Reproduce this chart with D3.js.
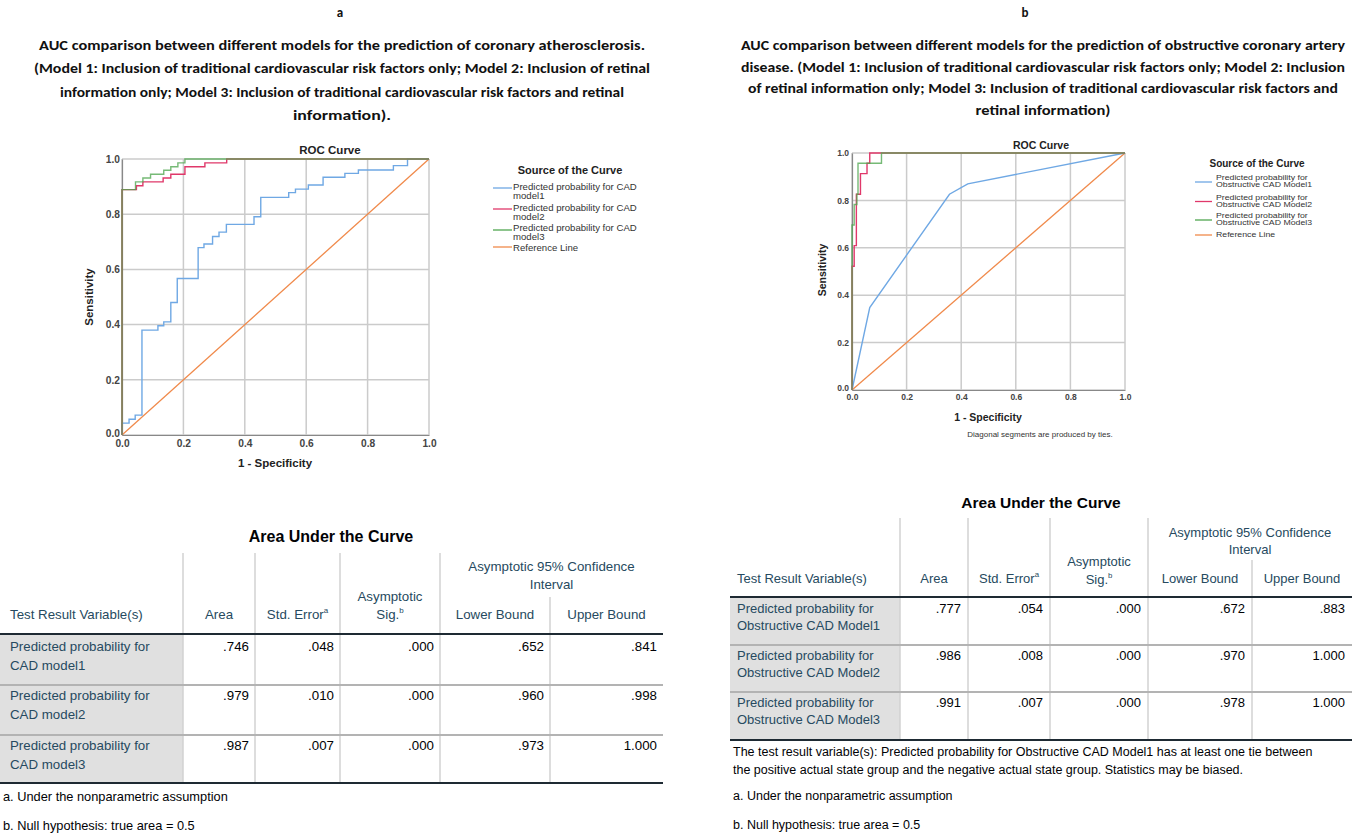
<!DOCTYPE html>
<html>
<head>
<meta charset="utf-8">
<script src="https://cdn.jsdelivr.net/npm/d3@7"></script>
<style>
  body { margin: 0; background: #fff; }
  svg { display: block; }
</style>
</head>
<body>
<div id="chart"></div>
<script>
// ---------- data ----------
const ticks = [0, 0.2, 0.4, 0.6, 0.8, 1.0]

// panel titles
const panelLetters = ["a", "b"]
const titleA = [
  "AUC comparison between different models for the prediction of coronary atherosclerosis.",
  "(Model 1: Inclusion of traditional cardiovascular risk factors only; Model 2: Inclusion of retinal",
  "information only; Model 3: Inclusion of traditional cardiovascular risk factors and retinal",
  "information)."
]
const titleB = [
  "AUC comparison between different models for the prediction of obstructive coronary artery",
  "disease. (Model 1: Inclusion of traditional cardiovascular risk factors only; Model 2: Inclusion",
  "of retinal information only; Model 3: Inclusion of traditional cardiovascular risk factors and",
  "retinal information)"
]

// ROC points (1 - specificity, sensitivity)
const rocA1 = [[0,0],[0,0.043],[0.023,0.057],[0.043,0.072],[0.065,0.38],[0.117,0.396],[0.136,0.41],
  [0.159,0.48],[0.18,0.567],[0.248,0.679],[0.267,0.692],[0.295,0.719],[0.316,0.735],[0.34,0.763],
  [0.43,0.791],[0.452,0.861],[0.543,0.878],[0.565,0.891],[0.607,0.906],[0.655,0.934],[0.726,0.948],
  [0.77,0.96],[0.884,0.976],[0.93,1.0],[1,1]]
const rocA2 = [[0,0],[0,0.889],[0.047,0.903],[0.068,0.917],[0.134,0.931],[0.159,0.945],[0.205,0.972],
  [0.27,0.986],[0.341,1.0],[1,1]]
const rocA3 = [[0,0],[0,0.889],[0.044,0.917],[0.068,0.931],[0.093,0.945],[0.136,0.959],[0.159,0.972],
  [0.182,0.986],[0.205,1.0],[1,1]]

const rocB1 = [[0,0],[0.065,0.348],[0.357,0.826],[0.424,0.87],[1,1]]
const rocB2 = [[0,0],[0,0.522],[0.008,0.609],[0.016,0.826],[0.031,0.913],[0.055,0.957],[0.065,1.0],[1,1]]
const rocB3 = [[0,0],[0,0.696],[0.008,0.783],[0.018,0.826],[0.022,0.957],[0.108,1.0],[1,1]]

const legendA = [["Predicted probability for CAD", "model1"], ["Predicted probability for CAD", "model2"],
  ["Predicted probability for CAD", "model3"], ["Reference Line"]]
const legendB = [["Predicted probability for", "Obstructive CAD Model1"], ["Predicted probability for", "Obstructive CAD Model2"],
  ["Predicted probability for", "Obstructive CAD Model3"], ["Reference Line"]]

// AUC tables
const tableAVars = [["Predicted probability for", "CAD model1"], ["Predicted probability for", "CAD model2"],
  ["Predicted probability for", "CAD model3"]]
const tableAArea = [".746", ".979", ".987"]
const tableASE = [".048", ".010", ".007"]
const tableASig = [".000", ".000", ".000"]
const tableALower = [".652", ".960", ".973"]
const tableAUpper = [".841", ".998", "1.000"]

const tableBVars = [["Predicted probability for", "Obstructive CAD Model1"], ["Predicted probability for", "Obstructive CAD Model2"],
  ["Predicted probability for", "Obstructive CAD Model3"]]
const tableBArea = [".777", ".986", ".991"]
const tableBSE = [".054", ".008", ".007"]
const tableBSig = [".000", ".000", ".000"]
const tableBLower = [".672", ".970", ".978"]
const tableBUpper = [".883", "1.000", "1.000"]

const notesA = ["a. Under the nonparametric assumption", "b. Null hypothesis: true area = 0.5"]
const notesB = ["The test result variable(s): Predicted probability for Obstructive CAD Model1 has at least one tie between",
  "the positive actual state group and the negative actual state group. Statistics may be biased.",
  "a. Under the nonparametric assumption", "b. Null hypothesis: true area = 0.5"]

// ---------- styles ----------
const colors = { m1: "#6fa8e4", m2: "#e0386a", m3: "#4fa64f", ref: "#f08a4b" }
const sans = "'Liberation Sans', Arial, sans-serif"
const calibri = "Carlito, 'Noto Sans', sans-serif"
const labelBlue = "#264a60"
const ink = "#010205"

const svg = d3.select("#chart").append("svg")
  .attr("width", 1360).attr("height", 835)
  .style("font-family", sans)

// ---------- panel titles ----------
function drawTitle(letter, lx, lines, cx, ys, widths) {
  const g = svg.append("g").style("font-family", calibri).attr("font-weight", "bold").attr("fill", "#111")
  g.append("text").attr("x", lx).attr("y", 12).attr("text-anchor", "middle")
    .attr("dominant-baseline", "central").attr("font-size", 13).text(letter)
  g.selectAll("text.line").data(lines).enter().append("text").attr("class", "line")
    .attr("x", cx).attr("y", (d, i) => ys[i]).attr("text-anchor", "middle")
    .attr("dominant-baseline", "central").attr("font-size", 14.5)
    .attr("textLength", (d, i) => widths[i]).attr("lengthAdjust", "spacingAndGlyphs")
    .text(d => d)
}
drawTitle(panelLetters[0], 340, titleA, 342, [45, 68, 92, 115], [606, 616, 564, 98])
drawTitle(panelLetters[1], 1025, titleB, 1043, [45, 67, 88, 110], [604, 604, 590, 135])

// ---------- ROC plots ----------
function drawRoc(cfg, curves, legend) {
  const x = d3.scaleLinear().domain([0, 1]).range([cfg.x0, cfg.x1])
  const y = d3.scaleLinear().domain([0, 1]).range([cfg.y0, cfg.y1])
  const g = svg.append("g")

  // grid
  g.selectAll("line.gx").data(ticks).enter().append("line").attr("class", "gx")
    .attr("x1", d => x(d)).attr("x2", d => x(d)).attr("y1", y(0)).attr("y2", y(1))
    .attr("stroke", "#cbcbcb").attr("stroke-width", 1.5)
  g.selectAll("line.gy").data(ticks).enter().append("line").attr("class", "gy")
    .attr("y1", d => y(d)).attr("y2", d => y(d)).attr("x1", x(0)).attr("x2", x(1))
    .attr("stroke", "#cbcbcb").attr("stroke-width", 1.5)

  // axes
  const fmt = d3.format(".1f")
  const xAxis = g.append("g").attr("transform", `translate(0,${y(0)})`)
    .call(d3.axisBottom(x).tickValues(ticks).tickSize(0).tickPadding(cfg.padX).tickFormat(fmt))
  const yAxis = g.append("g").attr("transform", `translate(${x(0)},0)`)
    .call(d3.axisLeft(y).tickValues(ticks).tickSize(0).tickPadding(cfg.padY).tickFormat(fmt))
  ;[xAxis, yAxis].forEach(a => {
    a.attr("font-size", null).attr("font-family", null)
    a.select(".domain").attr("stroke", "#888").attr("stroke-width", 1.2)
    a.selectAll("text")
      .style("font-size", cfg.tickFont + "px").style("font-weight", "bold")
      .style("font-family", sans).attr("fill", "#444")
  })
  // keep the corner "0.0" of the y axis just above the x axis one
  yAxis.selectAll(".tick text").filter(d => d === 0).attr("dy", "0.1em")

  // reference line
  g.append("line").attr("x1", x(0)).attr("y1", y(0)).attr("x2", x(1)).attr("y2", y(1))
    .attr("stroke", colors.ref).attr("stroke-width", 1.3)

  // curves
  curves.forEach(c => {
    const line = d3.line().x(d => x(d[0])).y(d => y(d[1])).curve(c.step ? d3.curveStepAfter : d3.curveLinear)
    g.append("path").datum(c.data).attr("d", line).attr("fill", "none")
      .attr("stroke", c.color).attr("stroke-width", 1.4).attr("stroke-opacity", c.opacity || 1)
  })

  // titles
  g.append("text").attr("x", cfg.titleX).attr("y", cfg.titleY).attr("text-anchor", "middle")
    .attr("dominant-baseline", "central").attr("font-weight", "bold").attr("font-size", cfg.titleFont)
    .attr("fill", "#222").text("ROC Curve")
  g.append("text").attr("x", cfg.xLabelX).attr("y", cfg.xLabelY).attr("text-anchor", "middle")
    .attr("dominant-baseline", "central").attr("font-weight", "bold").attr("font-size", cfg.titleFont)
    .attr("fill", "#222").text("1 - Specificity")
  g.append("text").attr("transform", `translate(${cfg.yLabelX},${cfg.yLabelY}) rotate(-90)`)
    .attr("text-anchor", "middle").attr("dominant-baseline", "central").attr("font-weight", "bold")
    .attr("font-size", cfg.yLabelFont).attr("fill", "#222").text("Sensitivity")

  // legend
  const lg = g.append("g")
  lg.append("text").attr("x", cfg.legTitleX).attr("y", cfg.legTitleY).attr("text-anchor", "middle")
    .attr("dominant-baseline", "central").attr("font-weight", "bold").attr("font-size", cfg.legTitleFont)
    .attr("fill", "#222").text("Source of the Curve")
  const legColors = [colors.m1, colors.m2, colors.m3, colors.ref]
  legend.forEach((lines, i) => {
    lg.append("line").attr("x1", cfg.legLineX0).attr("x2", cfg.legLineX1)
      .attr("y1", cfg.legLineY[i]).attr("y2", cfg.legLineY[i])
      .attr("stroke", legColors[i]).attr("stroke-width", 1.3)
    lines.forEach((t, j) => {
      const tx = lg.append("text").attr("x", cfg.legTextX).attr("y", cfg.legTextY[i] + j * cfg.legLineGap)
        .attr("dominant-baseline", "central").attr("font-size", cfg.legFont).attr("fill", "#333")
        .text(t)
      if (cfg.legStretch) tx.attr("transform", `translate(${cfg.legTextX},0) scale(${cfg.legStretch},1) translate(${-cfg.legTextX},0)`)
    })
  })
  return g
}

drawRoc({
  x0: 122, x1: 429, y0: 435, y1: 159, padX: 5, padY: 2, tickFont: 10.2,
  titleX: 330, titleY: 150, titleFont: 11.5, xLabelX: 275, xLabelY: 463,
  yLabelX: 89, yLabelY: 297, yLabelFont: 11.5,
  legTitleX: 570, legTitleY: 170, legTitleFont: 11,
  legLineX0: 493, legLineX1: 512, legLineY: [188, 209, 230, 247],
  legTextX: 513, legTextY: [186.5, 207.3, 227.3, 247.3], legLineGap: 9.2, legFont: 9.6
}, [
  { data: rocA1, color: colors.m1, step: true },
  { data: rocA2, color: colors.m2, step: true },
  { data: rocA3, color: colors.m3, step: true, opacity: 0.78 }
], legendA)

const gB = drawRoc({
  x0: 852, x1: 1125, y0: 390, y1: 153, padX: 4, padY: 3, tickFont: 8.5,
  titleX: 1041, titleY: 145, titleFont: 10.5, xLabelX: 988, xLabelY: 417,
  yLabelX: 822, yLabelY: 270, yLabelFont: 10.5,
  legTitleX: 1257, legTitleY: 163, legTitleFont: 10,
  legLineX0: 1195, legLineX1: 1212, legLineY: [182, 201.5, 220, 235],
  legTextX: 1216, legTextY: [177.8, 197.3, 215.8, 235], legLineGap: 7.2, legFont: 7, legStretch: 1.25
}, [
  { data: rocB1, color: colors.m1, step: false },
  { data: rocB2, color: colors.m2, step: true },
  { data: rocB3, color: colors.m3, step: true, opacity: 0.78 }
], legendB)

gB.append("text").attr("x", 1040).attr("y", 434).attr("text-anchor", "middle")
  .attr("dominant-baseline", "central").attr("font-size", 8).attr("fill", "#333")
  .text("Diagonal segments are produced by ties.")

// ---------- AUC tables ----------
function drawTable(cfg, vars, cols, notes) {
  const g = svg.append("g").style("font-family", sans)
  const e = cfg.edges
  const fs = cfg.font

  g.append("text").attr("x", cfg.titleX).attr("y", cfg.titleY).attr("text-anchor", "middle")
    .attr("dominant-baseline", "central").attr("font-weight", "bold").attr("font-size", cfg.titleFont)
    .attr("fill", ink).text("Area Under the Curve")

  g.append("rect").attr("x", e[0]).attr("y", cfg.headLine).attr("width", e[1] - e[0])
    .attr("height", cfg.bottom - cfg.headLine).attr("fill", "#e0e0e0")

  // vertical rules
  d3.range(1, 6).forEach(i => {
    g.append("line").attr("x1", e[i]).attr("x2", e[i])
      .attr("y1", i === 5 ? cfg.ciSplit : cfg.top).attr("y2", cfg.bottom)
      .attr("stroke", "#d2d2d2").attr("stroke-width", 1.5)
  })
  // row rules
  cfg.rowLines.forEach(yy => {
    g.append("line").attr("x1", e[0]).attr("x2", e[6]).attr("y1", yy).attr("y2", yy)
      .attr("stroke", "#b3b3b3").attr("stroke-width", 2)
  })
  ;[cfg.headLine, cfg.bottom].forEach(yy => {
    g.append("line").attr("x1", e[0]).attr("x2", e[6]).attr("y1", yy).attr("y2", yy)
      .attr("stroke", "#1e2a33").attr("stroke-width", 2)
  })

  // header
  const head = (x, y, t, sup, anchor) => {
    const tx = g.append("text").attr("x", x).attr("y", y).attr("text-anchor", anchor || "middle")
      .attr("dominant-baseline", "central").attr("font-size", fs).attr("fill", labelBlue).text(t)
    if (sup) tx.append("tspan").attr("font-size", fs * 0.6).attr("dy", -4).text(sup)
  }
  const mid = i => (e[i] + e[i + 1]) / 2
  head(e[0] + cfg.padL, cfg.headY, "Test Result Variable(s)", null, "start")
  head(mid(1), cfg.headY, "Area")
  head(mid(2), cfg.headY, "Std. Error", "a")
  head(mid(3), cfg.sigY[0], "Asymptotic")
  head(mid(3), cfg.sigY[1], "Sig.", "b")
  head((e[4] + e[6]) / 2, cfg.ciY[0], "Asymptotic 95% Confidence")
  head((e[4] + e[6]) / 2, cfg.ciY[1], "Interval")
  head(mid(4), cfg.headY, "Lower Bound")
  head(mid(5), cfg.headY, "Upper Bound")

  // body
  vars.forEach((lines, r) => {
    lines.forEach((t, j) => {
      g.append("text").attr("x", e[0] + cfg.padL).attr("y", cfg.rowY[r] + j * cfg.lineGap)
        .attr("dominant-baseline", "central").attr("font-size", fs).attr("fill", labelBlue).text(t)
    })
    cols.forEach((col, c) => {
      g.append("text").attr("x", e[c + 2] - cfg.padR).attr("y", cfg.rowY[r]).attr("text-anchor", "end")
        .attr("dominant-baseline", "central").attr("font-size", fs).attr("fill", ink).text(col[r])
    })
  })

  notes.forEach((t, i) => {
    g.append("text").attr("x", cfg.noteX).attr("y", cfg.noteY[i]).attr("dominant-baseline", "central")
      .attr("font-size", cfg.noteFont).attr("fill", ink).text(t)
  })
}

drawTable({
  edges: [0, 183, 255, 340, 440, 550, 663], top: 553, ciSplit: 597, headLine: 634,
  rowLines: [685, 735], bottom: 783, font: 13.3, titleFont: 16, titleX: 331, titleY: 536,
  headY: 614, sigY: [596, 614], ciY: [566, 584], padL: 10, padR: 6,
  rowY: [646, 695, 745], lineGap: 19, noteX: 3, noteY: [796, 825], noteFont: 12.8
}, tableAVars, [tableAArea, tableASE, tableASig, tableALower, tableAUpper], notesA)

drawTable({
  edges: [730, 900, 968, 1050, 1148, 1252, 1352], top: 518, ciSplit: 560, headLine: 597,
  rowLines: [645, 692], bottom: 740, font: 13, titleFont: 15.5, titleX: 1041, titleY: 502,
  headY: 578, sigY: [561, 579], ciY: [532, 549], padL: 7, padR: 7,
  rowY: [608, 655, 702], lineGap: 17.5, noteX: 733, noteY: [752, 770, 796, 825], noteFont: 12.5
}, tableBVars, [tableBArea, tableBSE, tableBSig, tableBLower, tableBUpper], notesB)
</script>
</body>
</html>
